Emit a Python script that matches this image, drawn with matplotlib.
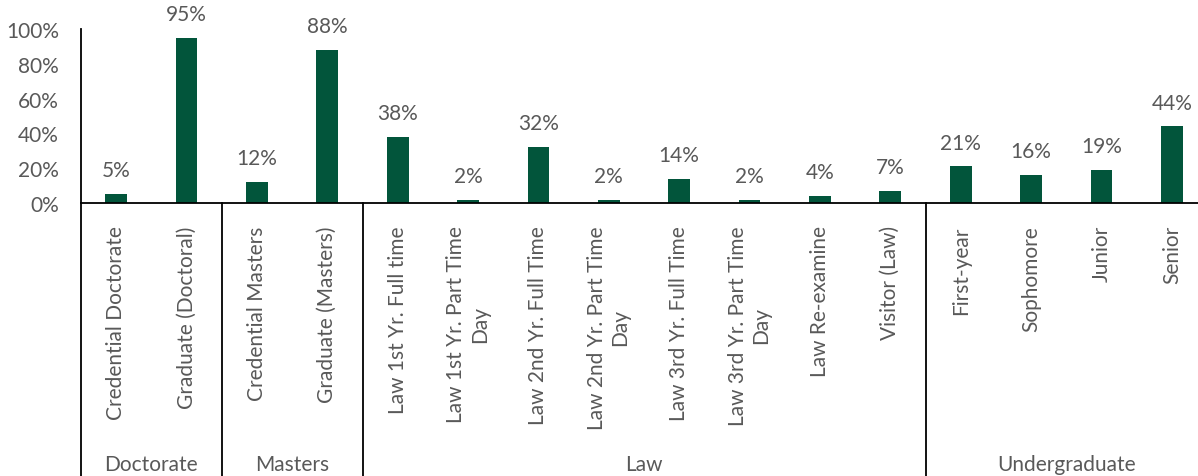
import matplotlib.pyplot as plt
import numpy as np

# data
categories = ["Credential Doctorate", "Graduate (Doctoral)",
              "Credential Masters", "Graduate (Masters)",
              "Law 1st Yr. Full time", "Law 1st Yr. Part Time\nDay",
              "Law 2nd Yr. Full Time", "Law 2nd Yr. Part Time\nDay",
              "Law 3rd Yr. Full Time", "Law 3rd Yr. Part Time\nDay",
              "Law Re-examine", "Visitor (Law)",
              "First-year", "Sophomore", "Junior", "Senior"]
values = [5, 95, 12, 88, 38, 2, 32, 2, 14, 2, 4, 7, 21, 16, 19, 44]
groups = ["Doctorate", "Masters", "Law", "Undergraduate"]
group_sizes = [2, 2, 8, 4]

W, H = 1198, 477
bar_color = "#02553B"
text_color = "#595959"
plt.rcParams['font.family'] = ['Lato', 'DejaVu Sans']

fig = plt.figure(figsize=(W / 100, H / 100), dpi=100)
ax_left, ax_bottom, ax_right, ax_top = 81, 204, 1207, 30
ax = fig.add_axes([ax_left / W, (H - ax_bottom) / H,
                   (ax_right - ax_left) / W, (ax_bottom - ax_top) / H])

x = np.arange(len(categories))
ax.bar(x, np.array(values) / 100, width=0.31, color=bar_color, zorder=2)
for xi, v in zip(x, values):
    ax.text(xi, v / 100 + 0.08, f"{v}%", ha="center", va="bottom",
            fontsize=15, color=text_color, clip_on=False)

ax.set_xlim(-0.5, len(categories) - 0.5)
ax.set_ylim(0, 1)
ax.set_yticks(np.arange(0, 1.01, 0.2))
ax.set_yticklabels([f"{int(t * 100)}%" for t in np.arange(0, 1.01, 0.2)],
                   fontsize=15, color=text_color)
ax.set_xticks(x)
ax.set_xticklabels(categories, rotation=90, fontsize=15, color=text_color,
                   ha="center", va="top", multialignment="center")
ax.tick_params(axis="x", length=0, pad=16)
ax.tick_params(axis="y", length=0, pad=16)

for s in ["top", "right"]:
    ax.spines[s].set_visible(False)
for s in ["left", "bottom"]:
    ax.spines[s].set_color("black")
    ax.spines[s].set_linewidth(1.3)

# group separators and labels below the axis
depth = -(H - ax_bottom) / (ax_bottom - ax_top)
trans = ax.get_xaxis_transform()
edge = -0.5
bounds = [edge]
for g, n in zip(groups, group_sizes):
    mid = edge + n / 2
    ax.text(mid, depth + 0.07, g, transform=trans, ha="center", va="center",
            fontsize=15, color=text_color, clip_on=False)
    edge += n
    bounds.append(edge)
for b in bounds[:-1]:
    ax.plot([b, b], [0, depth], transform=trans, color="black",
            linewidth=1.3, clip_on=False)

fig.savefig("out.png", dpi=100)
